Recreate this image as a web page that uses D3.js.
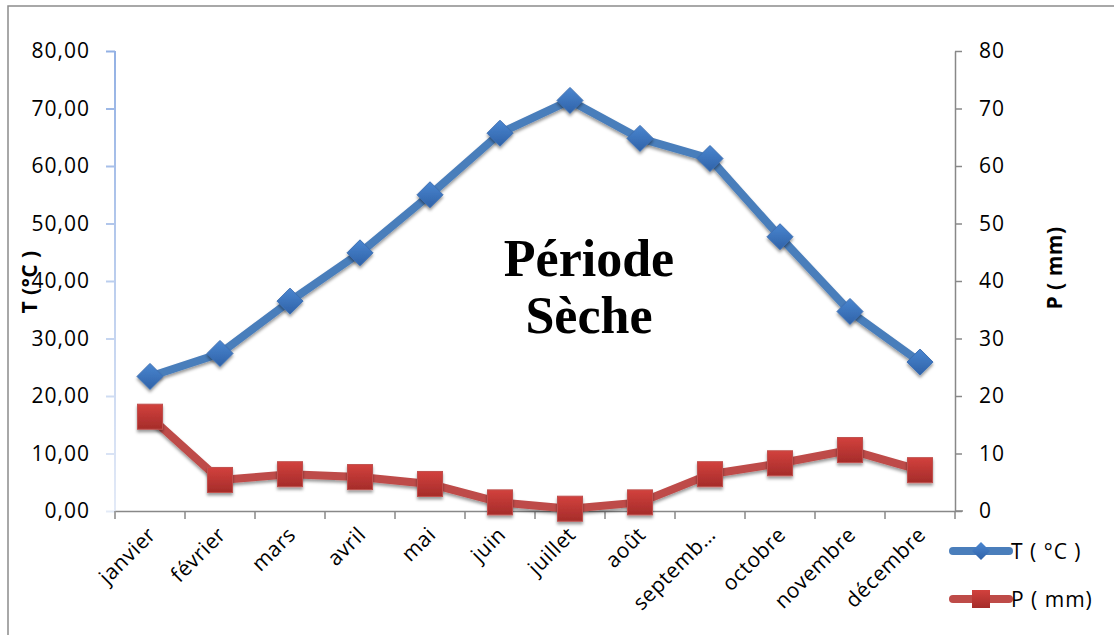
<!DOCTYPE html>
<html><head><meta charset="utf-8">
<script src="https://cdn.jsdelivr.net/npm/d3@7"></script>
<style>body{margin:0;background:#fff}svg{display:block}</style>
</head><body>
<svg id="c" width="1114" height="635"></svg>
<script>
const months = ["janvier","février","mars","avril","mai","juin","juillet","août","septemb…","octobre","novembre","décembre"];
const tempValues = [23.4, 27.4, 36.5, 44.9, 55.0, 65.7, 71.4, 64.8, 61.3, 47.7, 34.7, 25.9];
const precipValues = [16.4, 5.4, 6.4, 5.9, 4.7, 1.5, 0.4, 1.5, 6.4, 8.3, 10.6, 7.1];
const leftTicks = [0,10,20,30,40,50,60,70,80];
const rightTicks = [0,10,20,30,40,50,60,70,80];
const seriesNames = ["T ( °C )", "P ( mm)"];
const annotation = ["Période", "Sèche"];

const svg = d3.select("#c");
const font = "'Open Sans', 'Liberation Sans', sans-serif";
const L = 115, R = 955, T = 51, B = 511;

// frame
svg.append("rect").attr("x",8).attr("y",6).attr("width",1120).attr("height",640)
  .attr("fill","#fff").attr("stroke","#8c8c8c").attr("stroke-width",1.5);

const defs = svg.append("defs");
const ag = defs.append("linearGradient").attr("id","axg").attr("x1",0).attr("y1",0).attr("x2",0).attr("y2",1);
ag.append("stop").attr("offset","0%").attr("stop-color","#93b1e4");
ag.append("stop").attr("offset","100%").attr("stop-color","#e3eaf7");
const bg = defs.append("linearGradient").attr("id","bmg").attr("x1",0).attr("y1",0).attr("x2",0).attr("y2",1);
bg.append("stop").attr("offset","0%").attr("stop-color","#4a86d0");
bg.append("stop").attr("offset","100%").attr("stop-color","#2f62a8");
const rg = defs.append("linearGradient").attr("id","rmg").attr("x1",0).attr("y1",0).attr("x2",0).attr("y2",1);
rg.append("stop").attr("offset","0%").attr("stop-color","#d2413d");
rg.append("stop").attr("offset","100%").attr("stop-color","#a52c2a");
const sh = defs.append("filter").attr("id","sh").attr("x","-50%").attr("y","-50%").attr("width","200%").attr("height","200%");
sh.append("feDropShadow").attr("dx",0).attr("dy",2.5).attr("stdDeviation",1.8).attr("flood-color","#000").attr("flood-opacity",0.4);

const x = d3.scaleBand().domain(months).range([L,R]).paddingInner(0).paddingOuter(0);
const yL = d3.scaleLinear().domain([0,80]).range([B,T]);
const yR = d3.scaleLinear().domain([0,80]).range([B,T]);
const cx = d => x(d) + x.bandwidth()/2;

// left axis
const la = svg.append("g").attr("transform",`translate(${L},0)`)
  .call(d3.axisLeft(yL).tickValues(leftTicks).tickSize(9).tickSizeOuter(0)
    .tickFormat(d => d3.format(".2f")(d).replace(".",",")));
la.select(".domain").remove();
svg.append("rect").attr("x",L-1).attr("y",T).attr("width",2).attr("height",B-T).attr("fill","url(#axg)");
la.selectAll(".tick line").attr("stroke", d => d3.interpolateRgb("#93b1e4","#e3eaf7")(1-d/80)).attr("stroke-width",2);
la.selectAll(".tick text").attr("x",-25).attr("font-family",font).attr("font-size",21).attr("letter-spacing",1).attr("fill","#000");

// right axis
const ra = svg.append("g").attr("transform",`translate(${R},0)`)
  .call(d3.axisRight(yR).tickValues(rightTicks).tickSize(7).tickSizeOuter(0));
ra.select(".domain").attr("stroke","#888").attr("stroke-width",1.5);
ra.selectAll(".tick line").attr("stroke","#888").attr("stroke-width",1.5);
ra.selectAll(".tick text").attr("x",24).attr("font-family",font).attr("font-size",21).attr("letter-spacing",1).attr("fill","#000");

// x axis
const xa = svg.append("g").attr("transform",`translate(0,${B})`)
  .call(d3.axisBottom(x).tickSize(0).tickSizeOuter(0));
xa.select(".domain").attr("stroke","#888").attr("stroke-width",1.5);
xa.selectAll(".tick text").attr("font-family",font).attr("font-size",21).attr("letter-spacing",0.5).attr("fill","#000")
  .attr("text-anchor","end").attr("dy",0).attr("y",0)
  .attr("transform","translate(7,25) rotate(-45)");
const tickXs = d3.range(months.length+1).map(i => L + i*x.bandwidth());
svg.append("g").selectAll("line").data(tickXs).join("line")
  .attr("x1",d=>d).attr("x2",d=>d).attr("y1",B).attr("y2",B+8)
  .attr("stroke","#888").attr("stroke-width",1.5);
svg.append("line").attr("x1",R).attr("x2",R+8).attr("y1",B).attr("y2",B).attr("stroke","#888").attr("stroke-width",1.5);

// axis titles
svg.append("text").attr("transform","translate(37,282) rotate(-90)").attr("text-anchor","middle")
  .attr("font-family",font).attr("font-weight","bold").attr("font-size",21).attr("letter-spacing",0.5).text("T (°C )");
svg.append("text").attr("transform","translate(1062,268) rotate(-90)").attr("text-anchor","middle")
  .attr("font-family",font).attr("font-weight","bold").attr("font-size",21).attr("letter-spacing",0.5).text("P ( mm)");

// lines
const lineT = d3.line().x((d,i)=>cx(months[i])).y(d=>yL(d));
const lineP = d3.line().x((d,i)=>cx(months[i])).y(d=>yR(d));
svg.append("path").attr("d",lineT(tempValues)).attr("fill","none").attr("stroke","#4a7ebb").attr("stroke-width",8).attr("stroke-linejoin","round").attr("filter","url(#sh)");
svg.append("path").attr("d",lineP(precipValues)).attr("fill","none").attr("stroke","#be4b48").attr("stroke-width",8).attr("stroke-linejoin","round").attr("filter","url(#sh)");

// markers
const dsz = 13;
svg.append("g").selectAll("path").data(tempValues).join("path")
  .attr("d",`M0,${-dsz}L${dsz},0L0,${dsz}L${-dsz},0Z`)
  .attr("transform",(d,i)=>`translate(${cx(months[i])},${yL(d)})`)
  .attr("fill","url(#bmg)").attr("stroke","#3c6fb4").attr("stroke-width",1).attr("filter","url(#sh)");
const ssz = 12.5;
svg.append("g").selectAll("rect").data(precipValues).join("rect")
  .attr("x",(d,i)=>cx(months[i])-ssz).attr("y",d=>yR(d)-ssz).attr("width",2*ssz).attr("height",2*ssz)
  .attr("fill","url(#rmg)").attr("stroke","#c0504d").attr("stroke-width",1).attr("filter","url(#sh)");

// annotation
svg.append("g").selectAll("text").data(annotation).join("text")
  .attr("x",589).attr("y",(d,i)=>276+i*57).attr("text-anchor","middle")
  .attr("font-family","'Liberation Serif', 'DejaVu Serif', serif").attr("font-weight","bold").attr("font-size",52)
  .attr("fill","#000").text(d=>d);

// legend
const lg = svg.append("g");
const legY = [551, 599];
const legC = [["#4a7ebb","url(#bmg)"],["#be4b48","url(#rmg)"]];
seriesNames.forEach((n,i)=>{
  lg.append("line").attr("x1",953).attr("x2",1009).attr("y1",legY[i]).attr("y2",legY[i])
    .attr("stroke",legC[i][0]).attr("stroke-width",8).attr("stroke-linecap","round");
  if(i===0) lg.append("path").attr("d","M0,-9L9,0L0,9L-9,0Z").attr("transform",`translate(981,${legY[i]})`).attr("fill",legC[i][1]);
  else lg.append("rect").attr("x",972).attr("y",legY[i]-9).attr("width",18).attr("height",18).attr("fill",legC[i][1]);
  lg.append("text").attr("x",1011).attr("y",legY[i]+8).attr("font-family",font).attr("font-size",21).attr("letter-spacing",1).text(n);
});
</script>
</body></html>
